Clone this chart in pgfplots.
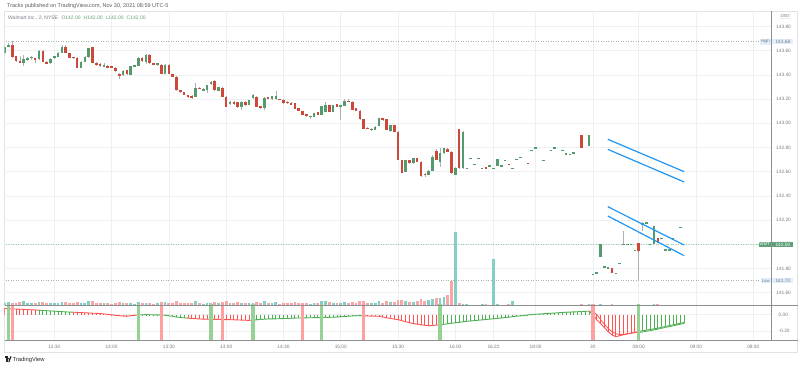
\documentclass[border=0pt]{standalone}
\usepackage{pgfplots}
\pgfplotsset{compat=1.18}
\usepackage{pgfplotstable}
\usepackage{fontspec}
\setmainfont{Liberation Sans}

\definecolor{cgreen}{RGB}{83,155,110}
\definecolor{cred}{RGB}{205,72,58}
\definecolor{wickc}{RGB}{175,175,178}
\definecolor{volteal}{RGB}{132,206,198}
\definecolor{volpink}{RGB}{248,166,166}
\definecolor{ired}{RGB}{255,82,82}
\definecolor{igreen}{RGB}{76,175,80}
\definecolor{sigG}{RGB}{150,210,150}
\definecolor{sigR}{RGB}{255,160,160}
\definecolor{chan}{RGB}{33,150,243}
\definecolor{gridc}{RGB}{238,239,242}
\definecolor{labc}{RGB}{120,123,134}
\definecolor{axc}{RGB}{140,142,148}
\definecolor{framec}{RGB}{224,226,230}
\definecolor{tagblue}{RGB}{227,238,252}
\definecolor{taggreen}{RGB}{96,160,120}

\pgfplotstableread{
k o h l c v
0 143.578 143.648 143.570 143.633 2.8
1 143.639 143.665 143.635 143.647 3.1
2 143.647 143.680 143.545 143.551 2.5
3 143.556 143.560 143.505 143.515 2.1
4 143.518 143.560 143.496 143.504 3.5
5 143.496 143.564 143.474 143.537 3.9
6 143.523 143.550 143.515 143.542 2.8
7 143.537 143.556 143.520 143.551 2.5
8 143.537 143.540 143.496 143.529 2.2
9 143.529 143.610 143.525 143.600 3.4
10 143.600 143.605 143.505 143.509 3.1
11 143.509 143.512 143.490 143.496 2.1
12 143.496 143.540 143.492 143.537 2.5
13 143.537 143.560 143.532 143.556 2.8
14 143.551 143.590 143.548 143.584 2.2
15 143.584 143.645 143.580 143.633 3.6
16 143.633 143.648 143.584 143.586 3.1
17 143.578 143.580 143.538 143.542 2.8
18 143.551 143.553 143.534 143.537 2.1
19 143.542 143.545 143.455 143.460 3.4
20 143.460 143.512 143.456 143.509 2.5
21 143.509 143.555 143.505 143.551 2.2
22 143.545 143.625 143.540 143.620 3.9
23 143.628 143.632 143.498 143.501 4.5
24 143.501 143.504 143.478 143.482 2.8
25 143.490 143.500 143.470 143.473 2.2
26 143.468 143.496 143.465 143.482 2.0
27 143.476 143.480 143.458 143.462 2.1
28 143.473 143.476 143.456 143.460 1.8
29 143.460 143.462 143.428 143.432 2.5
30 143.413 143.420 143.365 143.391 3.1
31 143.399 143.440 143.394 143.435 2.5
32 143.440 143.445 143.400 143.405 2.2
33 143.399 143.476 143.396 143.473 2.8
34 143.476 143.485 143.470 143.480 1.7
35 143.473 143.545 143.470 143.537 3.4
36 143.542 143.545 143.510 143.515 2.2
37 143.509 143.570 143.490 143.564 2.5
38 143.564 143.570 143.494 143.498 2.8
39 143.496 143.500 143.488 143.492 1.7
40 143.482 143.500 143.478 143.496 2.0
41 143.482 143.486 143.404 143.407 3.6
42 143.407 143.486 143.404 143.482 3.1
43 143.482 143.486 143.404 143.407 2.8
44 143.407 143.410 143.382 143.385 2.2
45 143.385 143.388 143.272 143.275 4.8
46 143.275 143.278 143.253 143.256 2.8
47 143.256 143.259 143.231 143.234 2.5
48 143.234 143.237 143.212 143.220 2.2
49 143.228 143.231 143.205 143.212 2.1
50 143.220 143.330 143.215 143.297 3.9
51 143.297 143.300 143.283 143.286 2.0
52 143.274 143.290 143.270 143.281 1.7
53 143.275 143.320 143.255 143.316 2.8
54 143.325 143.355 143.320 143.344 2.5
55 143.352 143.356 143.270 143.275 3.6
56 143.270 143.300 143.266 143.297 2.1
57 143.297 143.300 143.217 143.220 3.4
58 143.220 143.223 143.134 143.137 4.2
59 143.159 143.185 143.155 143.179 2.2
60 143.179 143.182 143.155 143.159 2.0
61 143.176 143.179 143.129 143.132 3.1
62 143.132 143.182 143.115 143.179 2.8
63 143.179 143.182 143.148 143.151 2.2
64 143.151 143.196 143.148 143.192 2.5
65 143.206 143.240 143.202 143.234 2.8
66 143.220 143.223 143.134 143.137 3.6
67 143.143 143.146 143.121 143.124 2.2
68 143.124 143.215 143.110 143.212 4.2
69 143.215 143.218 143.198 143.201 2.0
70 143.198 143.229 143.195 143.226 2.5
71 143.198 143.270 143.195 143.226 3.4
72 143.201 143.205 143.192 143.195 1.7
73 143.195 143.198 143.162 143.165 2.5
74 143.179 143.182 143.162 143.165 2.0
75 143.170 143.173 143.154 143.157 2.1
76 143.165 143.168 143.115 143.118 3.1
77 143.124 143.127 143.101 143.104 2.5
78 143.102 143.105 143.066 143.069 2.8
79 143.074 143.077 143.057 143.060 2.2
80 143.055 143.065 143.040 143.060 1.7
81 143.055 143.085 143.052 143.082 2.5
82 143.090 143.093 143.066 143.069 2.2
83 143.069 143.146 143.066 143.143 3.9
84 143.096 143.180 143.093 143.151 4.5
85 143.151 143.154 143.093 143.096 3.4
86 143.096 143.154 143.093 143.151 2.8
87 143.159 143.162 143.134 143.137 2.2
88 143.137 143.155 143.030 143.151 2.5
89 143.146 143.200 143.143 143.187 3.4
90 143.187 143.200 143.176 143.179 2.0
91 143.179 143.182 143.112 143.115 3.6
92 143.129 143.132 143.101 143.104 2.5
93 143.104 143.107 143.030 143.033 4.2
94 143.033 143.036 142.950 142.953 4.8
95 142.964 142.967 142.950 142.953 2.5
96 142.945 142.961 142.935 142.958 2.2
97 142.945 142.975 142.942 142.972 2.8
98 142.980 143.044 142.977 143.041 4.2
99 143.041 143.044 143.024 143.027 2.2
100 143.033 143.036 142.942 142.945 3.9
101 142.939 142.989 142.925 142.986 3.1
102 142.986 142.989 142.928 142.931 3.6
103 142.931 142.934 142.694 142.697 5.5
104 142.697 142.700 142.589 142.592 5.0
105 142.600 142.700 142.597 142.697 4.6
106 142.697 142.700 142.666 142.669 3.4
107 142.669 142.713 142.666 142.710 3.8
108 142.710 142.713 142.680 142.683 4.0
109 142.683 142.686 142.561 142.564 6.5
110 142.586 142.589 142.555 142.578 4.0
111 142.573 142.611 142.570 142.608 5.0
112 142.608 142.740 142.605 142.724 6.0
113 142.771 142.790 142.699 142.702 7.0
114 142.683 142.795 142.640 142.752 7.0
115 142.752 142.796 142.749 142.793 8.0
116 142.793 142.796 142.763 142.766 10
117 142.766 142.769 142.583 142.586 24
118 142.578 142.636 142.570 142.633 73
119 142.950 142.955 142.625 142.628 2.2
120 142.628 142.934 142.625 142.931 1.6
121 142.628 142.628 142.628 142.628 1.0
122 142.710 142.710 142.710 142.710 0.8
123 142.661 142.661 142.661 142.661 0.8
124 142.710 142.710 142.710 142.710 0.8
125 142.628 142.628 142.628 142.628 0.9
126 142.636 142.636 142.625 142.625 1.0
127 142.650 142.650 142.650 142.650 0.7
128 142.628 142.628 142.628 142.628 46
129 142.647 142.710 142.647 142.710 1.2
130 142.650 142.650 142.650 142.650 0.8
131 142.697 142.697 142.697 142.697 0.7
132 142.669 142.669 142.658 142.658 1.0
133 142.628 142.628 142.628 142.628 4
134 142.702 142.702 142.702 142.702 0.8
135 142.719 142.719 142.719 142.719 0.7
137 142.675 142.675 142.665 142.665 0.8
138 142.780 142.780 142.780 142.780 0.7
139 142.799 142.799 142.799 142.799 0.8
141 142.697 142.697 142.697 142.697 0.7
143 142.780 142.780 142.780 142.780 0.7
144 142.799 142.799 142.799 142.799 0.7
146 142.780 142.780 142.780 142.780 0.7
147 142.752 142.752 142.752 142.752 0.7
148 142.747 142.747 142.747 142.747 0.7
149 142.758 142.758 142.758 142.758 0.7
151 142.904 142.904 142.799 142.799 1.0
153 142.816 142.904 142.816 142.904 1.0
154 141.752 141.752 141.752 141.752 0.8
155 141.766 141.766 141.766 141.766 0.7
156 141.898 142.000 141.898 142.000 1.0
157 141.815 141.815 141.815 141.815 0.7
158 141.807 141.807 141.807 141.807 0.7
159 141.802 141.802 141.760 141.760 0.9
160 141.760 141.760 141.760 141.760 0.7
161 141.843 141.843 141.843 141.843 0.7
162 142.000 142.113 142.000 142.000 0.8
163 142.000 142.000 142.000 142.000 0.7
164 142.000 142.000 142.000 142.000 0.7
165 141.953 141.953 141.953 141.953 0.7
166 142.014 142.014 141.697 141.945 1.0
167 142.165 142.182 142.113 142.180 0.8
168 142.179 142.179 142.179 142.179 0.7
169 142.000 142.000 142.000 142.000 0.7
170 142.000 142.151 142.000 142.151 1.0
171 142.050 142.050 142.008 142.008 0.9
172 142.050 142.050 142.050 142.050 0.7
173 141.958 141.958 141.958 141.958 0.7
174 141.958 141.958 141.958 141.958 0.7
175 142.036 142.050 142.036 142.050 0.8
177 142.140 142.140 142.140 142.140 0.7
}\candles

\pgfplotstableread{
k h g
0 0.075 0
1 0.072 0
2 0.070 0
3 0.068 0
4 0.066 0
5 0.064 0
6 0.061 0
7 0.059 0
8 0.057 0
9 0.054 1
10 0.051 1
11 0.048 1
12 0.045 1
13 0.042 1
14 0.039 1
15 0.036 1
16 0.033 1
17 0.031 1
18 0.029 0
19 0.027 0
20 0.024 0
21 0.022 0
22 0.020 0
23 0.017 0
24 0.015 0
25 0.013 0
26 0.008 0
27 0.003 0
28 -0.003 0
29 -0.008 0
30 -0.014 0
31 -0.018 0
32 -0.021 0
33 -0.015 0
34 -0.008 0
35 -0.003 1
36 -0.002 1
37 -0.001 1
38 -0.002 1
39 -0.003 1
40 -0.004 1
41 -0.005 1
42 -0.008 1
43 -0.015 1
44 -0.022 1
45 -0.030 1
46 -0.036 1
47 -0.040 1
48 -0.044 0
49 -0.048 0
50 -0.051 0
51 -0.054 0
52 -0.056 0
53 -0.057 0
54 -0.058 0
55 -0.059 0
56 -0.060 0
57 -0.061 0
58 -0.062 0
59 -0.063 0
60 -0.064 0
61 -0.066 0
62 -0.068 0
63 -0.070 0
64 -0.071 0
65 -0.068 1
66 -0.064 1
67 -0.060 1
68 -0.057 1
69 -0.054 1
70 -0.053 1
71 -0.052 1
72 -0.051 1
73 -0.049 1
74 -0.047 1
75 -0.045 1
76 -0.043 1
77 -0.042 1
78 -0.041 1
79 -0.040 1
80 -0.039 1
81 -0.038 1
82 -0.037 1
83 -0.036 1
84 -0.035 1
85 -0.034 1
86 -0.033 1
87 -0.030 1
88 -0.027 1
89 -0.024 1
90 -0.020 1
91 -0.017 1
92 -0.015 1
93 -0.013 1
94 -0.015 0
95 -0.017 0
96 -0.019 0
97 -0.020 0
98 -0.021 0
99 -0.030 0
100 -0.040 0
101 -0.048 0
102 -0.055 0
103 -0.063 0
104 -0.075 0
105 -0.088 0
106 -0.100 0
107 -0.110 0
108 -0.118 0
109 -0.125 0
110 -0.132 0
111 -0.138 0
112 -0.134 0
113 -0.130 0
114 -0.125 1
115 -0.119 1
116 -0.113 1
117 -0.107 1
118 -0.101 1
119 -0.095 1
120 -0.089 1
121 -0.083 1
122 -0.079 1
123 -0.074 1
124 -0.070 1
125 -0.065 1
126 -0.061 1
127 -0.056 1
128 -0.052 1
129 -0.047 1
130 -0.042 1
131 -0.037 1
132 -0.032 1
133 -0.026 1
134 -0.021 1
135 -0.016 1
136 -0.011 1
137 -0.005 1
138 0.000 1
139 0.003 1
140 0.007 1
141 0.010 1
142 0.013 1
143 0.016 1
144 0.019 1
145 0.023 1
146 0.026 1
147 0.029 1
148 0.031 1
149 0.033 1
150 0.035 1
151 0.037 1
152 0.040 1
153 0.042 1
154 0.000 0
155 -0.063 0
156 -0.110 0
157 -0.160 0
158 -0.210 0
159 -0.250 0
160 -0.271 0
161 -0.260 0
162 -0.248 0
163 -0.238 0
164 -0.229 0
165 -0.218 0
166 -0.208 1
167 -0.200 1
168 -0.192 1
169 -0.184 1
170 -0.175 1
171 -0.167 1
172 -0.157 1
173 -0.146 1
174 -0.136 1
175 -0.126 1
176 -0.116 1
177 -0.106 1
178 -0.096 1
}\ind

\pgfplotstableread{
k s g
153 0.042 0
154 0.040 0
155 0.000 0
156 -0.060 0
157 -0.120 0
158 -0.170 0
159 -0.210 0
160 -0.235 0
161 -0.245 0
162 -0.242 0
163 -0.236 0
164 -0.228 0
165 -0.222 0
166 -0.220 1
167 -0.213 1
168 -0.205 1
169 -0.197 1
170 -0.188 1
171 -0.179 1
172 -0.169 1
173 -0.158 1
174 -0.148 1
175 -0.138 1
176 -0.128 1
177 -0.118 1
178 -0.108 1
}\slow

\pgfplotsset{
  pane/.style={anchor=south west, scale only axis, width=767pt,
    xmin=-0.03, xmax=200.76, clip=true},
  tlab/.style={font=\fontsize{4.8}{5}\selectfont, text=labc},
}

\begin{document}
\begin{tikzpicture}[x=1pt,y=1pt]
\fill[white] (0,0) rectangle (800,368);

\draw[framec, line width=0.5pt] (4.5,16) rectangle (797.5,357);

% price pane grid and labels
\begin{axis}[pane, at={(4.5pt,62.7pt)}, height=294.3pt,
  ymin=141.496, ymax=143.928,
  xtick={13,28,43,58,73,88,103,118,128,139,154,166,181,196},
  xticklabels={},
  ytick={141.6,141.8,142.0,142.2,142.4,142.6,142.8,143.0,143.2,143.4,143.6,143.8},
  xmajorgrids, ymajorgrids,
  grid style={gridc, line width=0.6pt},
  axis line style={draw=none}, tick style={draw=none}, major tick length=0pt,
  yticklabel pos=right,
  /pgf/number format/assume math mode=true,
  /pgf/number format/fixed, /pgf/number format/fixed zerofill,
  /pgf/number format/precision=2, /pgf/number format/1000 sep={},
  yticklabel style={tlab, anchor=west, inner sep=0pt, xshift=4.5pt},
]
\addplot[draw=none] coordinates {(0,142)};
\end{axis}

% volume
\begin{axis}[pane, at={(4.5pt,62.7pt)}, height=294.3pt, ymin=0, ymax=294.3, hide axis]
\addplot[ycomb, line width=2.8pt, draw=volteal,
  restrict expr to domain={\thisrow{c}-\thisrow{o}}{-0.00001:1}]
  table[x=k, y=v] {\candles};
\addplot[ycomb, line width=2.8pt, draw=volpink,
  restrict expr to domain={\thisrow{c}-\thisrow{o}}{-1:-0.00001}]
  table[x=k, y=v] {\candles};
\end{axis}

% candles
\begin{axis}[pane, at={(4.5pt,62.7pt)}, height=294.3pt,
  ymin=141.496, ymax=143.928, hide axis]
\addplot[draw={rgb,255:red,170;green,180;blue,170}, line width=0.5pt, dotted] coordinates {(-1,143.68) (202,143.68)};
\addplot[draw={rgb,255:red,170;green,175;blue,180}, line width=0.5pt, dotted] coordinates {(-1,141.70) (202,141.70)};
\addplot[draw={rgb,255:red,150;green,200;blue,170}, line width=0.5pt, dotted] coordinates {(-1,142.00) (202,142.00)};
% wicks
\addplot[draw=none, mark=none,
  error bars/.cd, y dir=both, y explicit, error mark=none,
  error bar style={draw=wickc, line width=0.55pt, solid}]
  table[x=k, y expr={(\thisrow{h}+\thisrow{l})/2}, y error expr={(\thisrow{h}-\thisrow{l})/2}] {\candles};
% green bodies
\addplot[draw=none, mark=none,
  restrict expr to domain={\thisrow{c}-\thisrow{o}}{-0.00001:1},
  error bars/.cd, y dir=both, y explicit, error mark=none,
  error bar style={draw=cgreen, line width=2.6pt, solid}]
  table[x=k, y expr={(\thisrow{o}+\thisrow{c})/2}, y error expr={max(abs(\thisrow{c}-\thisrow{o})/2,0.0028)}] {\candles};
% red bodies
\addplot[draw=none, mark=none,
  restrict expr to domain={\thisrow{c}-\thisrow{o}}{-1:-0.00001},
  error bars/.cd, y dir=both, y explicit, error mark=none,
  error bar style={draw=cred, line width=2.6pt, solid}]
  table[x=k, y expr={(\thisrow{o}+\thisrow{c})/2}, y error expr={max(abs(\thisrow{c}-\thisrow{o})/2,0.0028)}] {\candles};
% channels
\addplot[chan, line width=1.2pt] coordinates {(157.9,142.868) (177.9,142.600)};
\addplot[chan, line width=1.2pt] coordinates {(157.9,142.785) (177.9,142.515)};
\addplot[chan, line width=1.2pt] coordinates {(157.9,142.311) (177.9,141.994)};
\addplot[chan, line width=1.2pt] coordinates {(157.9,142.234) (177.9,141.906)};
\end{axis}

% indicator pane
\begin{axis}[pane, at={(4.5pt,28pt)}, height=35.3pt,
  ymin=-0.3125, ymax=0.1213,
  xtick={13,28,43,58,73,88,103,118,128,139,154,166,181,196},
  xticklabels={12:30,13:00,13:30,14:00,14:30,15:00,15:30,16:00,16:22,18:00,30,08:00,09:00,09:30},
  ytick={-0.2,0},
  xmajorgrids, ymajorgrids,
  grid style={gridc, line width=0.6pt},
  axis line style={draw=none}, tick style={draw=none}, major tick length=0pt,
  yticklabel pos=right,
  /pgf/number format/assume math mode=true,
  /pgf/number format/fixed, /pgf/number format/fixed zerofill,
  /pgf/number format/precision=2,
  yticklabel style={tlab, anchor=west, inner sep=0pt, xshift=7pt},
  xticklabel style={tlab, anchor=north, inner sep=0pt, yshift=-4.5pt},
  unbounded coords=jump,
  colormap={rg}{color=(ired) color=(igreen)},
]
\addplot[ycomb, draw=igreen, line width=0.9pt,
  restrict expr to domain={\thisrow{g}}{0.5:1.5}] table[x=k, y=h] {\ind};
\addplot[ycomb, draw=ired, line width=0.9pt,
  restrict expr to domain={\thisrow{g}}{-0.5:0.5}] table[x=k, y=h] {\ind};
\addplot[mesh, shader=flat corner, point meta=\thisrow{g}, point meta min=0, point meta max=1,
  line width=0.9pt] table[x=k, y=h] {\ind};
\addplot[mesh, shader=flat corner, point meta=\thisrow{g}, point meta min=0, point meta max=1,
  line width=0.8pt] table[x=k, y=s] {\slow};
\addplot[draw=sigG, line width=3.4pt] coordinates {(1,-1) (1,1) (35,nan) (35,-1) (35,1) (54,nan) (54,-1) (54,1) (65,nan) (65,-1) (65,1) (83,nan) (83,-1) (83,1) (114,nan) (114,-1) (114,1) (166,nan) (166,-1) (166,1)};
\addplot[draw=sigR, line width=3.4pt] coordinates {(2,-1) (2,1) (41,nan) (41,-1) (41,1) (57,nan) (57,-1) (57,1) (78,nan) (78,-1) (78,1) (94,nan) (94,-1) (94,1) (154,nan) (154,-1) (154,1)};
\end{axis}

% frame lines
\draw[axc, line width=0.6pt] (771.5,357) -- (771.5,28);
\draw[axc, line width=0.6pt] (4.5,62.7) -- (797.5,62.7);
\draw[axc, line width=0.6pt] (4.5,28) -- (797.5,28);

% tags
\node[draw=framec, rounded corners=0.8pt, inner sep=0.7pt, font=\fontsize{4}{4}\selectfont, text=labc] at (785,351.5) {USD};
\node[fill=tagblue, inner sep=0.9pt, anchor=east, font=\fontsize{4.3}{4.6}\selectfont, text=labc] at (770.8,326.3) {High};
\node[fill=tagblue, inner sep=0.9pt, anchor=west, minimum width=21pt, font=\fontsize{4.8}{5}\selectfont, text=labc] at (772.2,326.3) {143.68};
\node[fill=taggreen, inner sep=0.9pt, anchor=east, font=\fontsize{4.3}{4.6}\selectfont, text=white] at (770.8,123.5) {WMT};
\node[fill=taggreen, inner sep=0.9pt, anchor=west, minimum width=21pt, font=\fontsize{4.8}{5}\selectfont, text=white] at (772.2,123.5) {142.00};
\node[fill=tagblue, inner sep=0.9pt, anchor=east, font=\fontsize{4.3}{4.6}\selectfont, text=labc] at (770.8,87.4) {Low};
\node[fill=tagblue, inner sep=0.9pt, anchor=west, minimum width=21pt, font=\fontsize{4.8}{5}\selectfont, text=labc] at (772.2,87.4) {141.70};

% header texts
\node[anchor=west, inner sep=0pt, font=\fontsize{5.5}{6}\selectfont, text={rgb,255:red,90;green,92;blue,100}] at (7,362) {Tracks published on TradingView.com, Nov 30, 2021 08:59 UTC-5};
\node[anchor=west, inner sep=0pt, font=\fontsize{5.0}{6}\selectfont, text=labc] at (8,350) {Walmart Inc., 2, NYSE\hspace{3.5pt}{\color{taggreen}O142.00\hspace{3pt}H142.00\hspace{3pt}L142.00\hspace{3pt}C142.00}};

% logo
\fill[black!85] (4.5,10.2) rectangle (7.6,11.6);
\fill[black!85] (6.3,5.8) rectangle (7.6,11.6);
\fill[black!85] (8.6,9.4) circle (0.75);
\fill[black!85] (9.4,5.8) -- (11.6,11.6) -- (10.2,11.6) -- (8.2,5.8) -- cycle;
\node[anchor=west, inner sep=0pt, font=\fontsize{5.8}{6}\selectfont, text=black!85] at (12.5,8.5) {TradingView};

\pgfresetboundingbox
\useasboundingbox (0,0) rectangle (800,368);
\end{tikzpicture}
\end{document}
